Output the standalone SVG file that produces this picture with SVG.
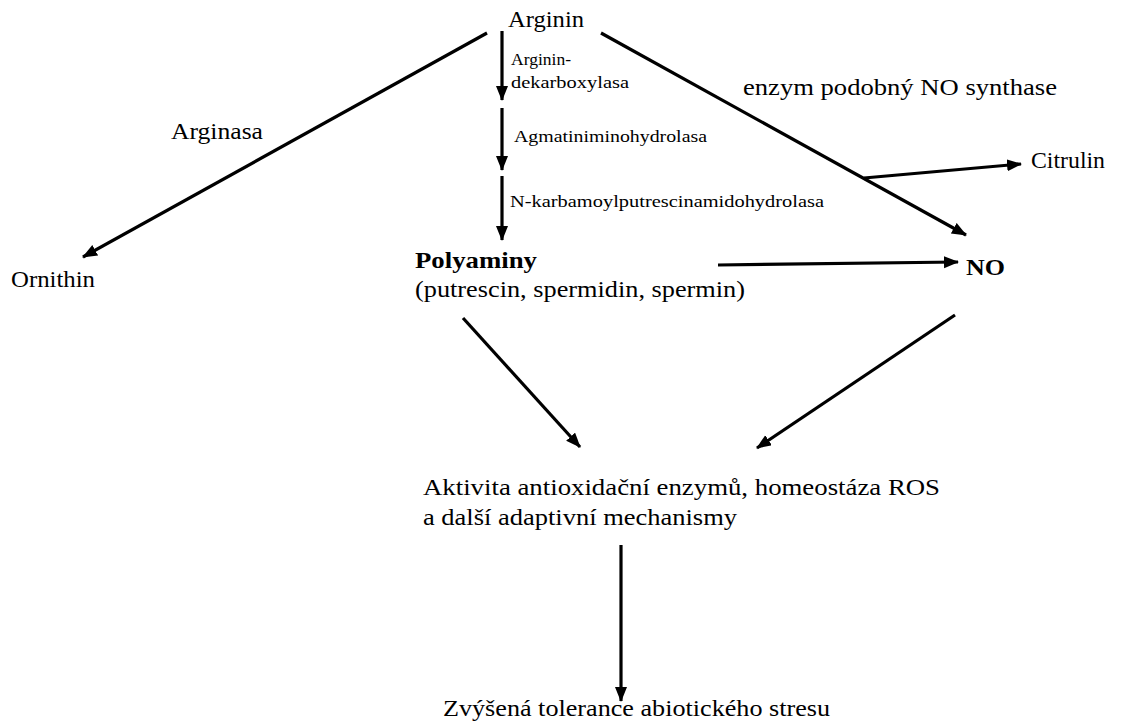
<svg xmlns="http://www.w3.org/2000/svg" width="1121" height="722" viewBox="0 0 1121 722">
<style>
text{font-family:"Liberation Serif","Times New Roman",serif;fill:#000}
.m{font-size:23.5px}
.s{font-size:17.5px}
.b{font-weight:bold}
.c{stroke:#000;stroke-width:3.2;fill:none;marker-end:url(#ah)}
</style>
<defs>
<marker id="ah" markerUnits="userSpaceOnUse" markerWidth="16" markerHeight="14" refX="14" refY="6" orient="auto">
<path d="M0,0 L15,6 L0,12 Z" fill="#000"/>
</marker>
</defs>
<rect width="1121" height="722" fill="#fff"/>
<g id="connectors">
<line class="c" x1="487" y1="33" x2="83" y2="257"/>
<line class="c" x1="502" y1="31" x2="502" y2="100"/>
<line class="c" x1="502" y1="108" x2="502" y2="170"/>
<line class="c" x1="502" y1="176" x2="502" y2="240"/>
<line class="c" x1="601" y1="33" x2="966" y2="235"/>
<line class="c" x1="864" y1="178" x2="1021" y2="164"/>
<line class="c" x1="718" y1="265" x2="958" y2="262"/>
<line class="c" x1="463" y1="318" x2="580" y2="447"/>
<line class="c" x1="955" y1="315" x2="757" y2="448"/>
<line class="c" x1="621" y1="545" x2="621" y2="701"/>
</g>
<g id="arginin"><text class="m" x="508" y="27" textLength="76" lengthAdjust="spacingAndGlyphs">Arginin</text></g>
<g id="arginasa"><text class="m" x="171" y="139" textLength="92" lengthAdjust="spacingAndGlyphs">Arginasa</text></g>
<g id="ornithin"><text class="m" x="11" y="287" textLength="84" lengthAdjust="spacingAndGlyphs">Ornithin</text></g>
<g id="enz1"><text class="s" x="511" y="65" textLength="60" lengthAdjust="spacingAndGlyphs">Arginin-</text><text class="s" x="511" y="88" textLength="118" lengthAdjust="spacingAndGlyphs">dekarboxylasa</text></g>
<g id="enz2"><text class="s" x="514" y="142" textLength="193" lengthAdjust="spacingAndGlyphs">Agmatiniminohydrolasa</text></g>
<g id="enz3"><text class="s" x="510" y="207" textLength="314" lengthAdjust="spacingAndGlyphs">N-karbamoylputrescinamidohydrolasa</text></g>
<g id="nos"><text class="m" x="743" y="95" textLength="314" lengthAdjust="spacingAndGlyphs">enzym podobný NO synthase</text></g>
<g id="citrulin"><text class="m" x="1031" y="168" textLength="74" lengthAdjust="spacingAndGlyphs">Citrulin</text></g>
<g id="polyaminy"><text class="m b" x="415" y="268" textLength="122" lengthAdjust="spacingAndGlyphs">Polyaminy</text><text class="m" x="415" y="297" textLength="330" lengthAdjust="spacingAndGlyphs">(putrescin, spermidin, spermin)</text></g>
<g id="no"><text class="m b" x="966" y="275" textLength="39" lengthAdjust="spacingAndGlyphs">NO</text></g>
<g id="aktivita"><text class="m" x="423" y="495" textLength="517" lengthAdjust="spacingAndGlyphs">Aktivita antioxidační enzymů, homeostáza ROS</text><text class="m" x="423" y="525" textLength="314" lengthAdjust="spacingAndGlyphs">a další adaptivní mechanismy</text></g>
<g id="tolerance"><text class="m" x="443" y="716" textLength="387" lengthAdjust="spacingAndGlyphs">Zvýšená tolerance abiotického stresu</text></g>
</svg>
